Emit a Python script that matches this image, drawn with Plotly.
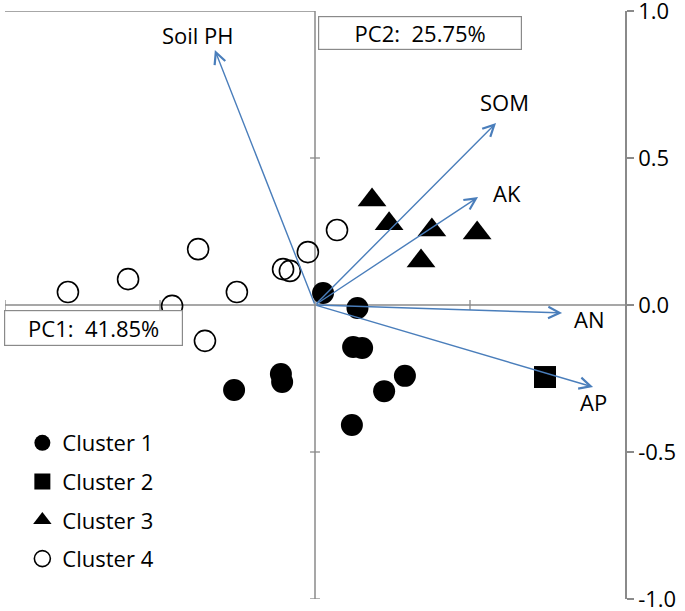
import plotly.graph_objects as go

# ---- data (PC1, PC2 scores) ----
c1_x = [0.026, 0.137, 0.123, 0.152, 0.290, 0.223, 0.119, -0.261, -0.110, -0.106]
c1_y = [0.041, -0.010, -0.143, -0.146, -0.241, -0.293, -0.408, -0.289, -0.235, -0.262]
c2_x = [0.742]
c2_y = [-0.245]
c3_x = [0.184, 0.239, 0.377, 0.523, 0.342]
c3_y = [0.357, 0.276, 0.255, 0.245, 0.150]
c4_x = [-0.797, -0.603, -0.377, -0.461, -0.252, -0.355, -0.103, -0.081, -0.023, 0.071]
c4_y = [0.044, 0.088, 0.190, -0.003, 0.044, -0.122, 0.122, 0.116, 0.180, 0.255]

# loadings (arrow tips)
var_names = ["Soil PH", "SOM", "AK", "AN", "AP"]
var_x = [-0.323, 0.584, 0.526, 0.797, 0.897]
var_y = [0.867, 0.619, 0.367, -0.027, -0.279]

pc1_label = "PC1:\u00a0 41.85%"
pc2_label = "PC2:\u00a0 25.75%"
ytick_vals = [-1.0, -0.5, 0.0, 0.5, 1.0]
ytick_text = ["-1.0", "-0.5", "0.0", "0.5", "1.0"]

# ---- style ----
FONT = "Open Sans"
FS = 22
AXC = "#8a8a8a"
ARROWC = "#4a7ebb"
label_shift = {"Soil PH": (-17, 15), "SOM": (8, 21), "AK": (29, 4), "AN": (27, -6), "AP": (0, -15)}

fig = go.Figure()
fig.add_trace(go.Scatter(x=c1_x, y=c1_y, mode="markers", name="Cluster 1", legendgroup="1",
                         marker=dict(symbol="circle", size=22, color="black")))
fig.add_trace(go.Scatter(x=c2_x, y=c2_y, mode="markers", name="Cluster 2", legendgroup="2",
                         marker=dict(symbol="square", size=22, color="black")))
fig.add_trace(go.Scatter(x=c3_x, y=c3_y, mode="markers", name="Cluster 3", legendgroup="3",
                         marker=dict(symbol="triangle-up", size=25, color="black")))
fig.add_trace(go.Scatter(x=c4_x, y=c4_y, mode="markers", name="Cluster 4", legendgroup="4",
                         marker=dict(symbol="circle-open", size=21, color="black",
                                     line=dict(width=1.6, color="black"))))

for n, vx, vy in zip(var_names, var_x, var_y):
    fig.add_annotation(x=vx, y=vy, ax=0, ay=0, xref="x", yref="y", axref="x", ayref="y",
                       showarrow=True, arrowhead=5, arrowsize=1.6, arrowwidth=1.4,
                       arrowcolor=ARROWC, text="")
    dx, dy = label_shift[n]
    fig.add_annotation(x=vx, y=vy, xref="x", yref="y", text=n, showarrow=False,
                       xshift=dx, yshift=dy, font=dict(family=FONT, size=FS, color="black"))

# PC boxes
fig.add_annotation(xref="paper", yref="paper", x=0.5048, y=0.9915, xanchor="left", yanchor="top",
                   text=pc2_label, showarrow=False, width=202, height=32, borderpad=0,
                   bordercolor=AXC, borderwidth=1.2, bgcolor="white",
                   font=dict(family=FONT, size=FS, color="black"))
fig.add_annotation(xref="paper", yref="paper", x=-0.0016, y=0.4915, xanchor="left", yanchor="top",
                   text=pc1_label, showarrow=False, width=177, height=34, borderpad=0,
                   bordercolor=AXC, borderwidth=1.2, bgcolor="white",
                   font=dict(family=FONT, size=FS, color="black"))

# inner axis lines
fig.add_shape(type="line", xref="x", yref="y", x0=-1, x1=1, y0=0, y1=0,
              line=dict(color=AXC, width=1.5), layer="below")
fig.add_shape(type="line", xref="x", yref="y", x0=0, x1=0, y0=-1, y1=1,
              line=dict(color=AXC, width=1.5), layer="below")
fig.add_shape(type="line", xref="x", yref="y", x0=-1, x1=0, y0=1, y1=1,
              line=dict(color=AXC, width=1.5), layer="below")
for t in [-0.5, 0.5, -1.0]:
    fig.add_shape(type="line", xref="x", yref="y", x0=t, x1=t, y0=-0.017, y1=0.017,
                  line=dict(color=AXC, width=1.3), layer="below")
for t in [-1.0, -0.5, 0.5]:
    fig.add_shape(type="line", xref="x", yref="y", x0=-0.016, x1=0.016, y0=t, y1=t,
                  line=dict(color=AXC, width=1.3), layer="below")

fig.update_layout(
    width=685, height=611,
    margin=dict(l=5, r=60, t=11, b=12, autoexpand=False),
    paper_bgcolor="white", plot_bgcolor="white",
    font=dict(family=FONT, size=FS, color="black"),
    xaxis=dict(range=[-1, 1], showgrid=False, zeroline=False, showticklabels=False,
               showline=False, ticks="", automargin=False),
    yaxis=dict(range=[-1, 1], side="right", showgrid=False, zeroline=False,
               showline=True, linecolor=AXC, linewidth=1.5, automargin=False,
               ticks="outside", ticklen=7, tickcolor=AXC, tickwidth=1.5,
               ticklabeloverflow="allow",
               tickvals=ytick_vals, ticktext=ytick_text,
               tickfont=dict(family=FONT, size=FS, color="black")),
    showlegend=True,
    legend=dict(x=0.028, y=0.301, xanchor="left", yanchor="top", bgcolor="rgba(0,0,0,0)",
                traceorder="grouped", tracegroupgap=7, itemsizing="trace",
                font=dict(family=FONT, size=FS, color="black")),
)

fig.write_html("out.html", config={"displayModeBar": False},
               post_script="document.body.style.margin='0';document.body.style.overflow='hidden';")
